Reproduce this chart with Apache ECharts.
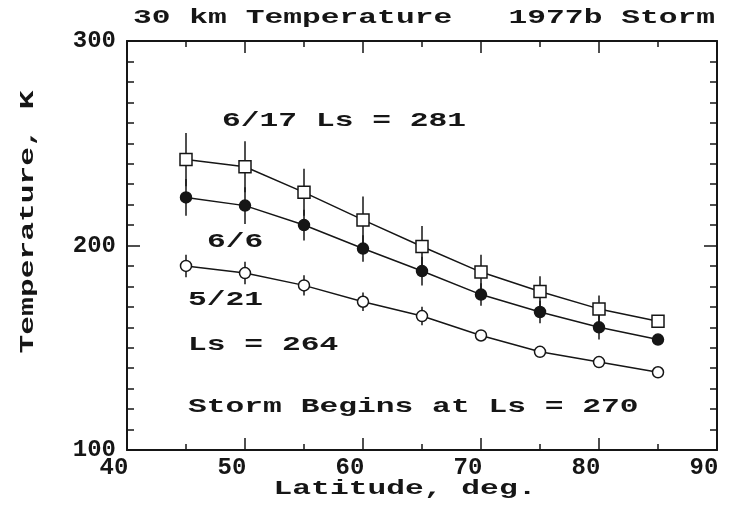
<!DOCTYPE html>
<html>
<head>
<meta charset="utf-8">
<script src="https://cdn.jsdelivr.net/npm/echarts@6/dist/echarts.min.js"></script>
<style>
  html, body { margin: 0; padding: 0; background: #ffffff; }
  #chart { width: 734px; height: 505px; }
</style>
</head>
<body>
<div id="chart"></div>
<script>
// Latitude bands (deg) where the 30 km temperatures were retrieved
const latitudes = [45, 50, 55, 60, 65, 70, 75, 80, 85];

// 6/17, Ls = 281 (open squares)
const tempJun17 = [242, 238.5, 226, 212.5, 199.5, 187, 177.5, 169, 163];
const errJun17  = [13, 12.5, 11.5, 11.5, 10, 8.5, 7.5, 6.5, 2];

// 6/6 (filled circles)
const tempJun6 = [223.5, 219.5, 210, 198.5, 187.5, 176, 167.5, 160, 154];
const errJun6  = [9, 9, 7.5, 6.5, 7, 5.5, 5.5, 6, 2];

// 5/21, Ls = 264 (open circles)
const tempMay21 = [190, 186.5, 180.5, 172.5, 165.5, 156, 148, 143, 138];
const errMay21  = [5.5, 5.5, 5, 4.5, 4.5, 2.5, 2.5, 2.5, 2];

// Axis ranges and tick steps
const xRange = [40, 90];
const xStep = 10;
const yRange = [100, 300];
const yStep = 100;

const INK = '#161616';
const FONT = '"Liberation Mono", "DejaVu Sans Mono", monospace';
const FS = 21;       // plotter-style lettering size
const SX = 1.49;     // horizontal stretch of the wide plotter glyphs

function pairs(ys) { return latitudes.map((x, i) => [x, ys[i]]); }
function bars(ys, errs) { return latitudes.map((x, i) => [x, ys[i] - errs[i], ys[i] + errs[i]]); }

function errorSeries(ys, errs) {
  return {
    type: 'custom',
    z: 1,
    silent: true,
    data: bars(ys, errs),
    renderItem: function (params, api) {
      const lo = api.coord([api.value(0), api.value(1)]);
      const hi = api.coord([api.value(0), api.value(2)]);
      return {
        type: 'line',
        shape: { x1: lo[0], y1: lo[1], x2: hi[0], y2: hi[1] },
        style: { stroke: INK, lineWidth: 1.5 }
      };
    }
  };
}

function lineSeries(name, ys, symbol, size, fill) {
  return {
    name: name,
    type: 'line',
    z: 3,
    data: pairs(ys),
    symbol: symbol,
    symbolSize: size,
    showAllSymbol: true,
    lineStyle: { color: INK, width: 1.5 },
    itemStyle: { color: fill, borderColor: INK, borderWidth: 1.5 },
    emphasis: { disabled: true }
  };
}

function note(text, x, y, align, extra) {
  return Object.assign({
    type: 'text',
    x: x,
    y: y,
    scaleX: SX,
    silent: true,
    z: 10,
    style: {
      text: text,
      font: 'bold ' + FS + 'px ' + FONT,
      fill: INK,
      textAlign: align || 'left',
      textVerticalAlign: 'middle'
    }
  }, extra || {});
}

function frameAxis(pos, labels) {
  const isX = pos === 'bottom' || pos === 'top';
  return {
    type: 'value',
    position: pos,
    min: isX ? xRange[0] : yRange[0],
    max: isX ? xRange[1] : yRange[1],
    interval: isX ? xStep : yStep,
    axisLine: { show: true, onZero: false, lineStyle: { color: INK, width: 2 } },
    axisTick: { show: true, inside: true, length: isX ? 12 : 13, lineStyle: { color: INK, width: 1.5 } },
    minorTick: { show: true, splitNumber: isX ? 2 : 10, length: isX ? 6 : 7, lineStyle: { color: INK, width: 1.5 } },
    splitLine: { show: false },
    minorSplitLine: { show: false },
    axisLabel: labels ? (isX
      ? { show: true, color: INK, fontFamily: FONT, fontWeight: 'bold', fontSize: 24, margin: 6, padding: [0, 26, 0, 0] }
      : { show: true, color: INK, fontFamily: FONT, fontWeight: 'bold', fontSize: 24, margin: 11, padding: [0, 0, 7, 0] })
      : { show: false }
  };
}

const chart = echarts.init(document.getElementById('chart'), null, { renderer: 'canvas' });

chart.setOption({
  animation: false,
  backgroundColor: '#ffffff',
  grid: { left: 127, right: 17, top: 41, bottom: 55, containLabel: false },
  xAxis: [frameAxis('bottom', true), frameAxis('top', false)],
  yAxis: [frameAxis('left', true), frameAxis('right', false)],
  series: [
    errorSeries(tempJun17, errJun17),
    errorSeries(tempJun6, errJun6),
    errorSeries(tempMay21, errMay21),
    lineSeries('6/17', tempJun17, 'rect', 12, '#ffffff'),
    lineSeries('6/6', tempJun6, 'circle', 11, INK),
    lineSeries('5/21', tempMay21, 'circle', 11, '#ffffff')
  ],
  graphic: [
    note('30 km Temperature   1977b Storm', 133, 18),
    note('6/17 Ls = 281', 222, 121),
    note('6/6', 207, 242),
    note('5/21', 188, 300),
    note('Ls = 264', 188, 345),
    note('Storm Begins at Ls = 270', 188, 407),
    note('Latitude, deg.', 405, 489, 'center'),
    note('Temperature, K', 28, 222, 'center', { rotation: Math.PI / 2 })
  ]
});
</script>
</body>
</html>
